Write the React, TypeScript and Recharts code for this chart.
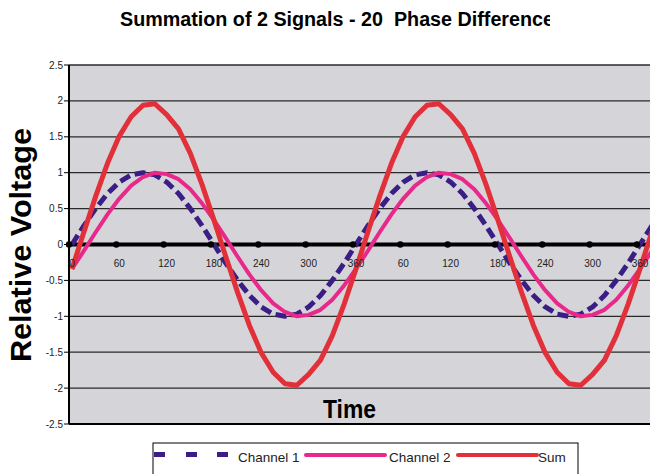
import { LineChart, Line, XAxis, YAxis, CartesianGrid, ReferenceLine, ReferenceDot } from "recharts";

// time axis in degrees, one point every 15 degrees (runs past the picture edge)
const degrees = [
  0, 15, 30, 45, 60, 75, 90, 105, 120, 135, 150, 165, 180, 195, 210, 225, 240, 255, 270, 285, 300, 315, 330, 345,
  360, 375, 390, 405, 420, 435, 450, 465, 480, 495, 510, 525, 540, 555, 570, 585, 600, 615, 630, 645, 660, 675, 690, 705,
  720, 735, 750,
];

const channel1 = [
  0, 0.26, 0.5, 0.71, 0.87, 0.97, 1, 0.97, 0.87, 0.71, 0.5, 0.26, 0, -0.26, -0.5, -0.71, -0.87, -0.97, -1, -0.97, -0.87, -0.71, -0.5, -0.26,
  0, 0.26, 0.5, 0.71, 0.87, 0.97, 1, 0.97, 0.87, 0.71, 0.5, 0.26, 0, -0.26, -0.5, -0.71, -0.87, -0.97, -1, -0.97, -0.87, -0.71, -0.5, -0.26,
  0, 0.26, 0.5,
];

const channel2 = [
  -0.34, -0.09, 0.17, 0.42, 0.64, 0.82, 0.94, 1, 0.98, 0.91, 0.77, 0.57, 0.34, 0.09, -0.17, -0.42, -0.64, -0.82, -0.94, -1, -0.98, -0.91, -0.77, -0.57,
  -0.34, -0.09, 0.17, 0.42, 0.64, 0.82, 0.94, 1, 0.98, 0.91, 0.77, 0.57, 0.34, 0.09, -0.17, -0.42, -0.64, -0.82, -0.94, -1, -0.98, -0.91, -0.77, -0.57,
  -0.34, -0.09, 0.17,
];

const sumSignal = [
  -0.34, 0.17, 0.67, 1.13, 1.51, 1.78, 1.94, 1.96, 1.81, 1.61, 1.27, 0.83, 0.34, -0.17, -0.67, -1.13, -1.51, -1.78, -1.94, -1.96, -1.81, -1.61, -1.27, -0.83,
  -0.34, 0.17, 0.67, 1.13, 1.51, 1.78, 1.94, 1.96, 1.81, 1.61, 1.27, 0.83, 0.34, -0.17, -0.67, -1.13, -1.51, -1.78, -1.94, -1.96, -1.81, -1.61, -1.27, -0.83,
  -0.34, 0.17, 0.67,
];

const yTicks = [-2.5, -2, -1.5, -1, -0.5, 0, 0.5, 1, 1.5, 2, 2.5];
const timeLabels = ["0", "60", "120", "180", "240", "300", "360", "60", "120", "180", "240", "300", "360"];

const LABEL_STEP = 60;
const TICK_SHIFT = -3.8; // excel puts the tick marks a bit left of the category

const PURPLE = "#3b1d86";
const PINK = "#e8288a";
const RED = "#e2303a";

const data = degrees.map((d, i) => ({ d, ch1: channel1[i], ch2: channel2[i], sum: sumSignal[i] }));

const fmtY = (v: number) => String(v);

export default function App() {
  return (
    <div style={{ position: "fixed", left: 0, top: 0, width: 650, height: 474, overflow: "hidden", background: "#fff" }}>
      <LineChart width={680} height={474} data={data} margin={{ top: 65, right: 8, bottom: 50, left: 0 }}>
        <CartesianGrid
          horizontal
          vertical={false}
          fill="#d5d5d9"
          fillOpacity={1}
          stroke="#2a2a2a"
          strokeWidth={1.3}
        />
        <XAxis dataKey="d" type="number" domain={[-3.8, 760.6]} hide />
        <YAxis
          width={69}
          domain={[-2.5, 2.5]}
          ticks={yTicks}
          interval={0}
          tickFormatter={fmtY}
          axisLine={{ stroke: "#000", strokeWidth: 2 }}
          tickLine={{ stroke: "#000" }}
          tickSize={5}
          tickMargin={1}
          tick={{ fontSize: 10, fill: "#222", fontFamily: "Liberation Sans, Arial, sans-serif" }}
        />
        <ReferenceLine y={-2.5} stroke="#000" strokeWidth={2} />
        <ReferenceLine y={0} stroke="#000" strokeWidth={4} />
        {timeLabels.map((_, i) => (
          <ReferenceDot key={"dot" + i} x={i * LABEL_STEP + TICK_SHIFT} y={0} r={3.2} fill="#000" stroke="none" />
        ))}
        {timeLabels.map((lab, i) => (
          <ReferenceDot
            key={"lab" + i}
            x={i * LABEL_STEP}
            y={0}
            r={0}
            shape={(p: any) => (
              <text
                x={p.cx}
                y={p.cy + 22}
                textAnchor="middle"
                fontSize={10}
                fill="#222"
                fontFamily="Liberation Sans, Arial, sans-serif"
              >
                {lab}
              </text>
            )}
          />
        ))}
        <Line
          dataKey="ch1"
          stroke={PURPLE}
          strokeWidth={5}
          strokeDasharray="11 5"
          strokeLinejoin="round"
          dot={false}
          isAnimationActive={false}
        />
        <Line dataKey="ch2" stroke={PINK} strokeWidth={4} strokeLinejoin="round" dot={false} isAnimationActive={false} />
        <Line dataKey="sum" stroke={RED} strokeWidth={5} strokeLinejoin="round" dot={false} isAnimationActive={false} />
      </LineChart>

      <svg
        width={650}
        height={474}
        style={{ position: "absolute", left: 0, top: 0, pointerEvents: "none" }}
        fontFamily="Liberation Sans, Arial, sans-serif"
      >
        <defs>
          <clipPath id="titleClip">
            <rect x={0} y={0} width={550} height={40} />
          </clipPath>
        </defs>
        <text
          x={120}
          y={26}
          fontSize={20}
          fontWeight="bold"
          fill="#000"
          textLength={434}
          lengthAdjust="spacingAndGlyphs"
          clipPath="url(#titleClip)"
          style={{ whiteSpace: "pre" }}
        >
          Summation of 2 Signals - 20  Phase Difference
        </text>
        <text
          transform="translate(31,362) rotate(-90)"
          fontSize={30}
          fontWeight="bold"
          fill="#000"
          textLength={234}
          lengthAdjust="spacingAndGlyphs"
        >
          Relative Voltage
        </text>
        <text x={323} y={418} fontSize={25} fontWeight="bold" fill="#000" textLength={53} lengthAdjust="spacingAndGlyphs">
          Time
        </text>

        <rect x={153} y={443} width={425} height={40} fill="#fff" stroke="#000" strokeWidth={1} />
        <rect x={154} y={452} width={11} height={5} fill={PURPLE} />
        <rect x={186} y={452} width={11} height={5} fill={PURPLE} />
        <rect x={217} y={452} width={11} height={5} fill={PURPLE} />
        <text x={238} y={462} fontSize={13.5} fill="#222">Channel 1</text>
        <line x1={306} y1={455} x2={385} y2={455} stroke={PINK} strokeWidth={4} strokeLinecap="round" />
        <text x={389} y={462} fontSize={13.5} fill="#222">Channel 2</text>
        <line x1={458} y1={455} x2={537} y2={455} stroke={RED} strokeWidth={4} strokeLinecap="round" />
        <text x={538} y={462} fontSize={13.5} fill="#222">Sum</text>
      </svg>
    </div>
  );
}
